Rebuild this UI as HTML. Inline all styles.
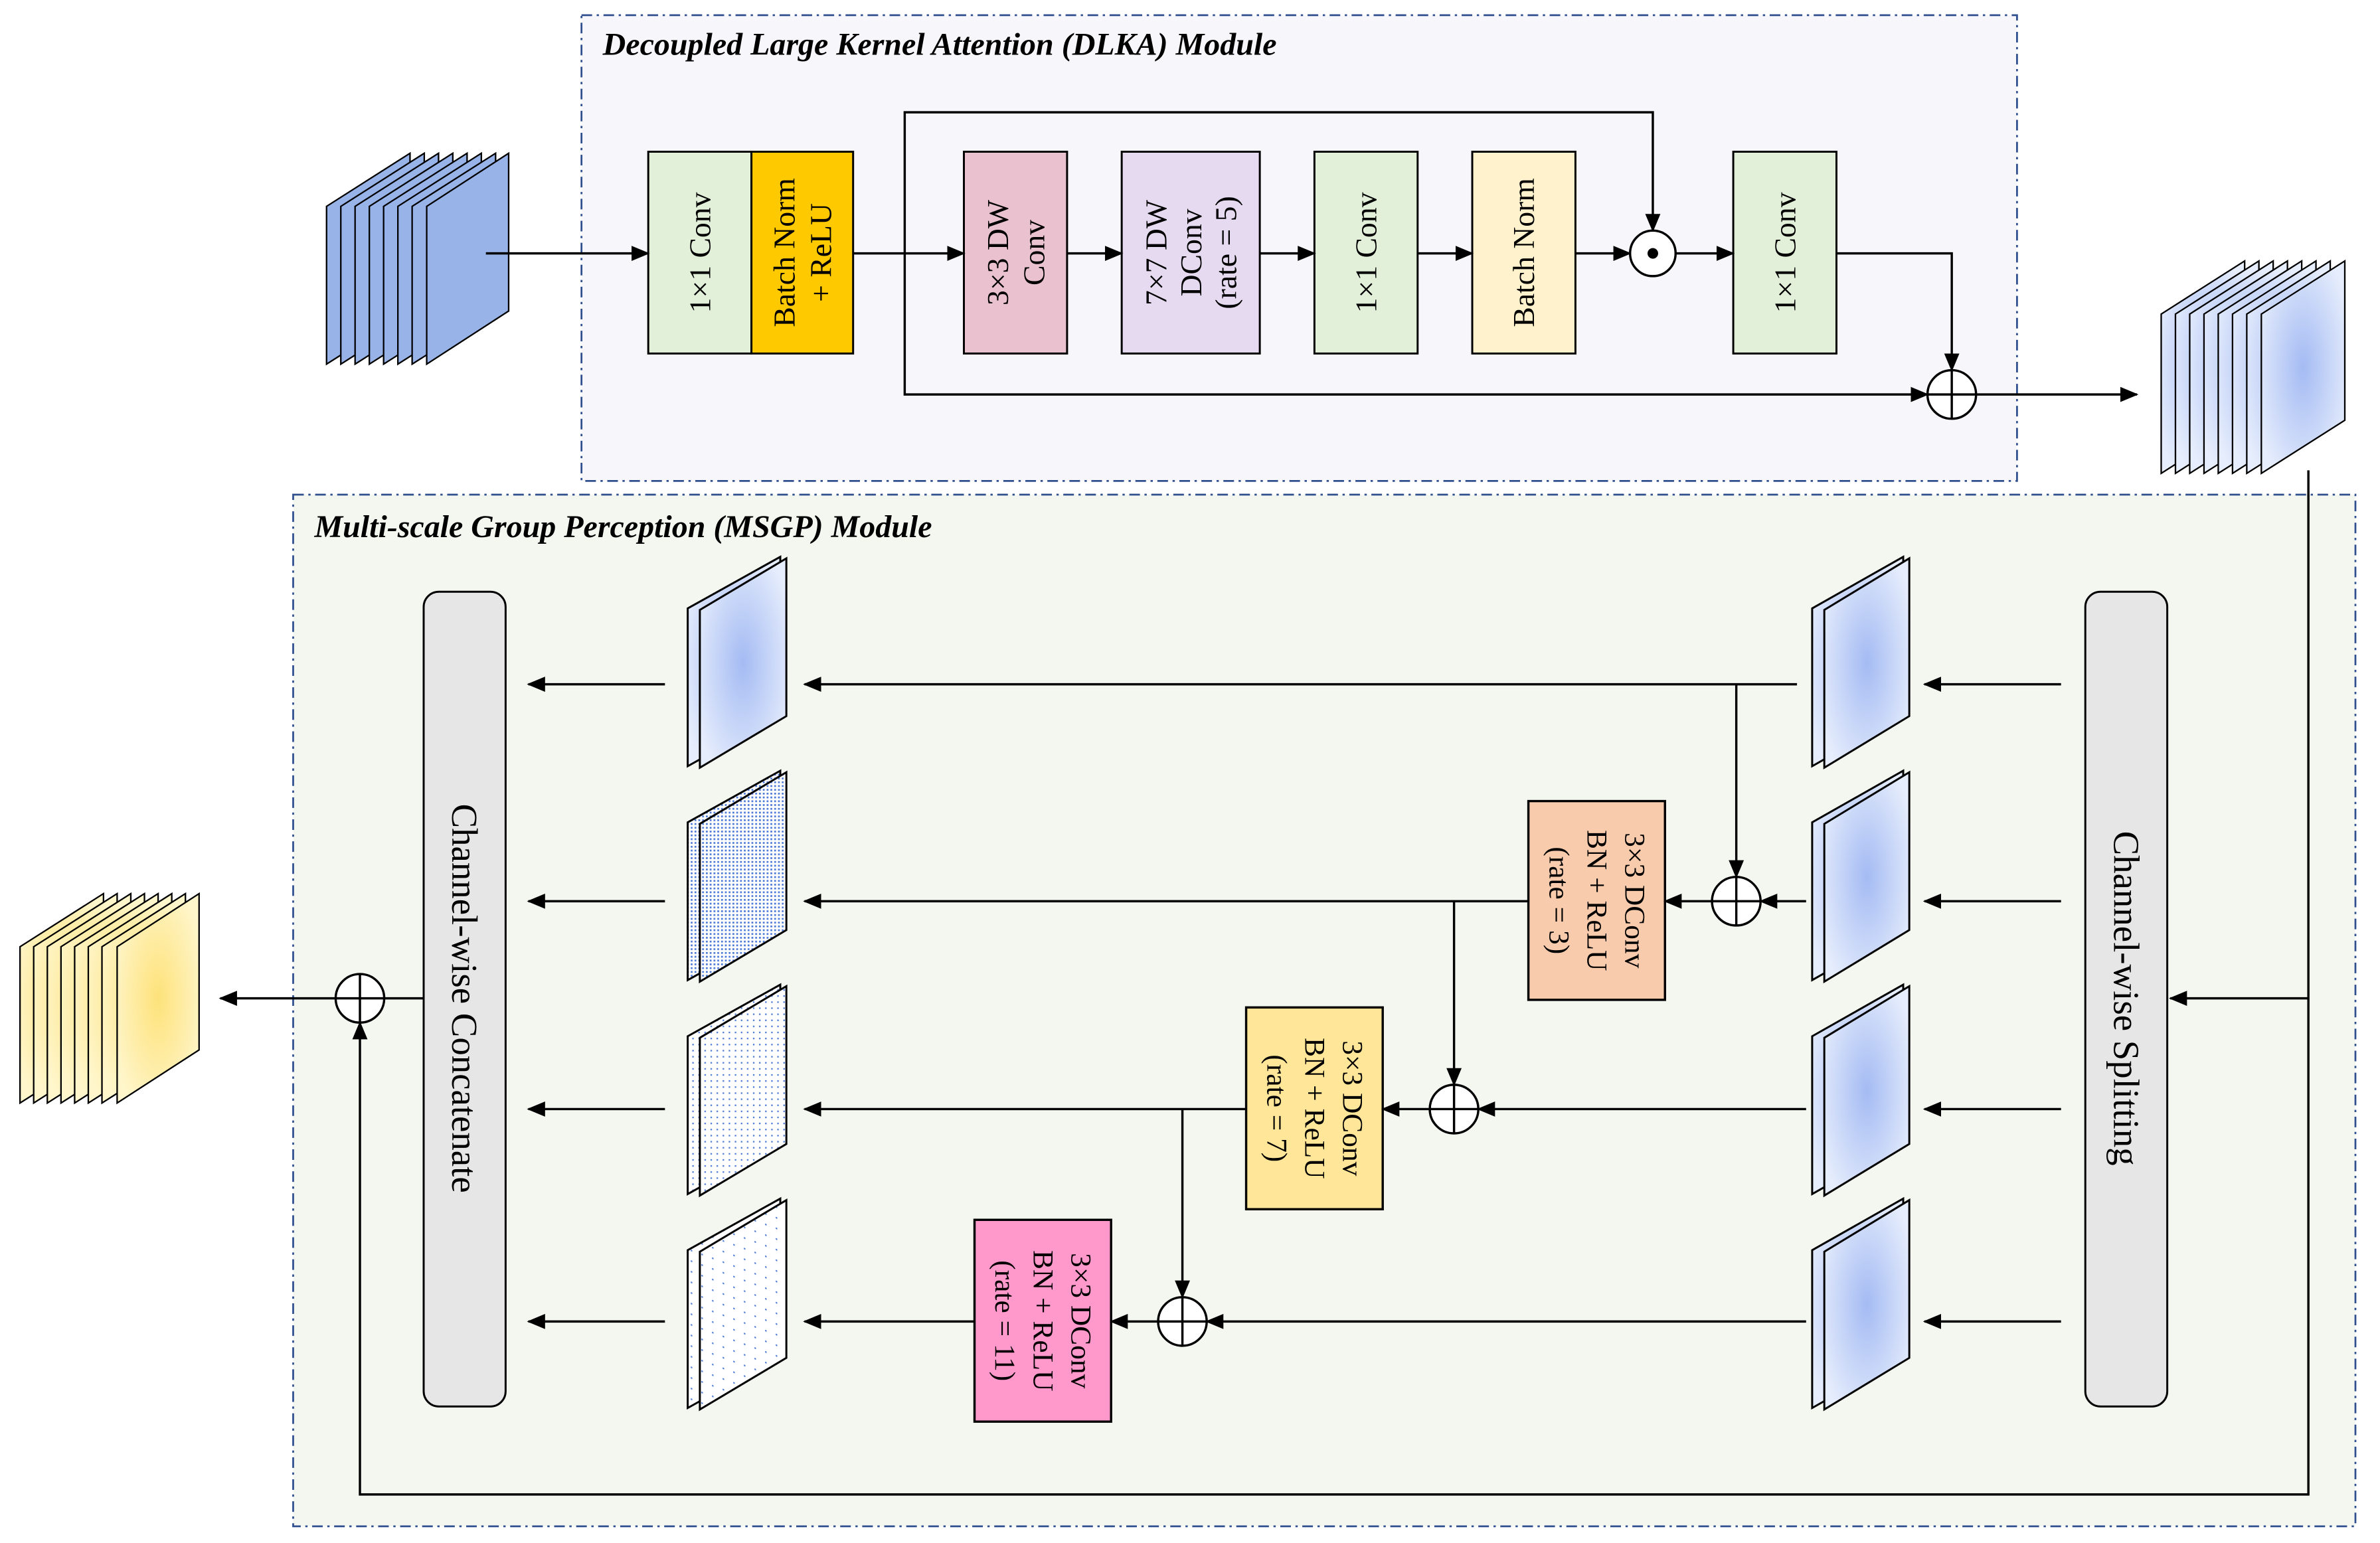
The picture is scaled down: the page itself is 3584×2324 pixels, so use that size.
<!DOCTYPE html>
<html><head><meta charset="utf-8"><style>html,body{margin:0;padding:0;background:#fff}svg{display:block}</style></head>
<body>
<svg width="3584" height="2324" viewBox="0 0 1568 1017" xmlns="http://www.w3.org/2000/svg" font-family="Liberation Serif, serif">
<defs>
<marker id="ah" markerWidth="12" markerHeight="10" refX="11" refY="5" orient="auto" markerUnits="userSpaceOnUse">
<path d="M0,0 L12,5 L0,10 z" fill="#000"/></marker>
<radialGradient id="gb" cx="0.5" cy="0.5" r="0.6"><stop offset="0" stop-color="#a4bbf3"/><stop offset="1" stop-color="#e6edfc"/></radialGradient>
<radialGradient id="gy" cx="0.5" cy="0.5" r="0.6"><stop offset="0" stop-color="#fde27a"/><stop offset="1" stop-color="#fff6cc"/></radialGradient>
<pattern id="p1" width="2.5" height="2.5" patternUnits="userSpaceOnUse"><rect width="2.5" height="2.5" fill="#fff"/><rect width="1.2" height="1.2" fill="#4d7bd6"/></pattern>
<pattern id="p2" width="4" height="4" patternUnits="userSpaceOnUse"><rect width="4" height="4" fill="#fff"/><rect width="1" height="1" fill="#4d7bd6"/></pattern>
<pattern id="p3" width="7" height="7" patternUnits="userSpaceOnUse" patternTransform="skewY(20)"><rect width="7" height="7" fill="#fff"/><rect width="1" height="1" fill="#4d7bd6"/></pattern>
</defs>
<rect width="1568" height="1017" fill="#fff"/>
<rect x="383" y="10" width="946" height="307" fill="#f7f6fb" stroke="#2f4f8f" stroke-width="1.2" stroke-dasharray="7 3 1.5 3"/>
<text x="397" y="36" font-size="21" font-weight="bold" font-style="italic">Decoupled Large Kernel Attention (DLKA) Module</text>
<rect x="193" y="326" width="1359" height="680" fill="#f3f7f0" stroke="#2f4f8f" stroke-width="1.2" stroke-dasharray="7 3 1.5 3"/>
<text x="207" y="354" font-size="21" font-weight="bold" font-style="italic">Multi-scale Group Perception (MSGP) Module</text>

<g stroke="#000" stroke-width="1" fill="#98b3e8">
<polygon points="215,136 270,101 270,205 215,240"/>
<polygon points="224.4,136 279.4,101 279.4,205 224.4,240"/>
<polygon points="233.8,136 288.8,101 288.8,205 233.8,240"/>
<polygon points="243.2,136 298.2,101 298.2,205 243.2,240"/>
<polygon points="252.6,136 307.6,101 307.6,205 252.6,240"/>
<polygon points="262,136 317,101 317,205 262,240"/>
<polygon points="271.4,136 326.4,101 326.4,205 271.4,240"/>
<polygon points="281,136 335,101 335,205 281,240"/>
</g>
<g stroke="#000" stroke-width="1" fill="url(#gb)">
<polygon points="1424,207 1479,172 1479,277 1424,312"/>
<polygon points="1433.4,207 1488.4,172 1488.4,277 1433.4,312"/>
<polygon points="1442.8,207 1497.8,172 1497.8,277 1442.8,312"/>
<polygon points="1452.2,207 1507.2,172 1507.2,277 1452.2,312"/>
<polygon points="1461.6,207 1516.6,172 1516.6,277 1461.6,312"/>
<polygon points="1471,207 1526,172 1526,277 1471,312"/>
<polygon points="1480.4,207 1535.4,172 1535.4,277 1480.4,312"/>
<polygon points="1490,207 1545,172 1545,277 1490,312"/>
</g>
<g stroke="#000" stroke-width="1" fill="url(#gy)">
<polygon points="13,624 68,589 68,692 13,727"/>
<polygon points="22,624 77,589 77,692 22,727"/>
<polygon points="31,624 86,589 86,692 31,727"/>
<polygon points="40,624 95,589 95,692 40,727"/>
<polygon points="49,624 104,589 104,692 49,727"/>
<polygon points="58,624 113,589 113,692 58,727"/>
<polygon points="67,624 122,589 122,692 67,727"/>
<polygon points="77,624 131,589 131,692 77,727"/>
</g>

<g stroke="#000" stroke-width="1.3">
<rect x="427" y="100" width="68" height="133" fill="#e2efd9"/>
<rect x="495" y="100" width="67" height="133" fill="#ffc900"/>
<rect x="635" y="100" width="68" height="133" fill="#eac2cf"/>
<rect x="739" y="100" width="91" height="133" fill="#e6daf1"/>
<rect x="866" y="100" width="68" height="133" fill="#e2efd9"/>
<rect x="970" y="100" width="68" height="133" fill="#fff2cc"/>
<rect x="1142" y="100" width="68" height="133" fill="#e2efd9"/>
</g>
<g font-size="20" text-anchor="middle" dominant-baseline="central">
<text transform="translate(461,166.5) rotate(-90)">1×1 Conv</text>
<text transform="translate(528.5,166.5) rotate(-90)"><tspan x="0" dy="-12">Batch Norm</tspan><tspan x="0" dy="24">+ ReLU</tspan></text>
<text transform="translate(669,166.5) rotate(-90)"><tspan x="0" dy="-12">3×3 DW</tspan><tspan x="0" dy="24">Conv</tspan></text>
<text transform="translate(784.5,166.5) rotate(-90)"><tspan x="0" dy="-23">7×7 DW</tspan><tspan x="0" dy="23">DConv</tspan><tspan x="0" dy="23">(rate = 5)</tspan></text>
<text transform="translate(900,166.5) rotate(-90)">1×1 Conv</text>
<text transform="translate(1004,166.5) rotate(-90)">Batch Norm</text>
<text transform="translate(1176,166.5) rotate(-90)">1×1 Conv</text>
</g>
<g stroke="#000" stroke-width="1.5" fill="none">
<line x1="320" y1="167" x2="427" y2="167" marker-end="url(#ah)"/>
<line x1="562" y1="167" x2="635" y2="167" marker-end="url(#ah)"/>
<line x1="703" y1="167" x2="739" y2="167" marker-end="url(#ah)"/>
<line x1="830" y1="167" x2="866" y2="167" marker-end="url(#ah)"/>
<line x1="934" y1="167" x2="970" y2="167" marker-end="url(#ah)"/>
<line x1="1038" y1="167" x2="1074" y2="167" marker-end="url(#ah)"/>
<line x1="1104" y1="167" x2="1142" y2="167" marker-end="url(#ah)"/>
<polyline points="596,167 596,74 1089,74 1089,152" marker-end="url(#ah)"/>
<polyline points="596,167 596,260 1270,260" marker-end="url(#ah)"/>
<polyline points="1210,167 1286,167 1286,244" marker-end="url(#ah)"/>
<line x1="1302" y1="260" x2="1408" y2="260" marker-end="url(#ah)"/>
</g>
<circle cx="1089" cy="167" r="15" fill="#fff" stroke="#000" stroke-width="1.5"/>
<circle cx="1089" cy="167" r="3.5" fill="#000"/>
<g stroke="#000" stroke-width="1.5" fill="#fff">
<circle cx="1286" cy="260" r="16"/><line x1="1270" y1="260" x2="1302" y2="260"/><line x1="1286" y1="244" x2="1286" y2="276"/>
</g>

<rect x="279" y="390" width="54" height="537" rx="10" fill="#e6e6e6" stroke="#000" stroke-width="1.3"/>
<rect x="1374" y="390" width="54" height="537" rx="10" fill="#e6e6e6" stroke="#000" stroke-width="1.3"/>
<text transform="translate(306,658) rotate(90)" font-size="24" text-anchor="middle" dominant-baseline="central">Channel-wise Concatenate</text>
<text transform="translate(1401,658) rotate(90)" font-size="24" text-anchor="middle" dominant-baseline="central">Channel-wise Splitting</text>

<g stroke="#000" stroke-width="1.3">
<g fill="url(#gb)"><polygon points="453,401 514,367 514,471 453,505"/><polygon points="461,402 518,368 518,472 461,506"/></g>
<g fill="url(#p1)"><polygon points="453,542 514,508 514,612 453,646"/><polygon points="461,543 518,509 518,613 461,647"/></g>
<g fill="url(#p2)"><polygon points="453,683 514,649 514,753 453,787"/><polygon points="461,684 518,650 518,754 461,788"/></g>
<g fill="url(#p3)"><polygon points="453,824 514,790 514,894 453,928"/><polygon points="461,825 518,791 518,895 461,929"/></g>
<g fill="url(#gb)">
<polygon points="1194,401 1254,367 1254,471 1194,505"/><polygon points="1202,402 1258,368 1258,472 1202,506"/>
<polygon points="1194,542 1254,508 1254,612 1194,646"/><polygon points="1202,543 1258,509 1258,613 1202,647"/>
<polygon points="1194,683 1254,649 1254,753 1194,787"/><polygon points="1202,684 1258,650 1258,754 1202,788"/>
<polygon points="1194,824 1254,790 1254,894 1194,928"/><polygon points="1202,825 1258,791 1258,895 1202,929"/>
</g>
</g>

<g stroke="#000" stroke-width="1.5">
<rect x="1007" y="528" width="90" height="131" fill="#f8cbad"/>
<rect x="821" y="664" width="90" height="133" fill="#ffe699"/>
<rect x="642" y="804" width="90" height="133" fill="#ff99cc"/>
</g>
<g font-size="19" text-anchor="middle" dominant-baseline="central">
<text transform="translate(1052,593.5) rotate(90)"><tspan x="0" dy="-25">3×3 DConv</tspan><tspan x="0" dy="25">BN + ReLU</tspan><tspan x="0" dy="25">(rate = 3)</tspan></text>
<text transform="translate(866,730.5) rotate(90)"><tspan x="0" dy="-25">3×3 DConv</tspan><tspan x="0" dy="25">BN + ReLU</tspan><tspan x="0" dy="25">(rate = 7)</tspan></text>
<text transform="translate(687,870.5) rotate(90)"><tspan x="0" dy="-25">3×3 DConv</tspan><tspan x="0" dy="25">BN + ReLU</tspan><tspan x="0" dy="25">(rate = 11)</tspan></text>
</g>

<g stroke="#000" stroke-width="1.5" fill="none">
<line x1="438" y1="451" x2="348" y2="451" marker-end="url(#ah)"/>
<line x1="438" y1="594" x2="348" y2="594" marker-end="url(#ah)"/>
<line x1="438" y1="731" x2="348" y2="731" marker-end="url(#ah)"/>
<line x1="438" y1="871" x2="348" y2="871" marker-end="url(#ah)"/>
<line x1="1358" y1="451" x2="1268" y2="451" marker-end="url(#ah)"/>
<line x1="1358" y1="594" x2="1268" y2="594" marker-end="url(#ah)"/>
<line x1="1358" y1="731" x2="1268" y2="731" marker-end="url(#ah)"/>
<line x1="1358" y1="871" x2="1268" y2="871" marker-end="url(#ah)"/>
<line x1="1184" y1="451" x2="530" y2="451" marker-end="url(#ah)"/>
<polyline points="1144,451 1144,578" marker-end="url(#ah)"/>
<line x1="1190" y1="594" x2="1160" y2="594" marker-end="url(#ah)"/>
<line x1="1128" y1="594" x2="1097" y2="594" marker-end="url(#ah)"/>
<line x1="1007" y1="594" x2="530" y2="594" marker-end="url(#ah)"/>
<polyline points="958,594 958,715" marker-end="url(#ah)"/>
<line x1="1190" y1="731" x2="974" y2="731" marker-end="url(#ah)"/>
<line x1="942" y1="731" x2="911" y2="731" marker-end="url(#ah)"/>
<line x1="821" y1="731" x2="530" y2="731" marker-end="url(#ah)"/>
<polyline points="779,731 779,855" marker-end="url(#ah)"/>
<line x1="1190" y1="871" x2="795" y2="871" marker-end="url(#ah)"/>
<line x1="763" y1="871" x2="732" y2="871" marker-end="url(#ah)"/>
<line x1="642" y1="871" x2="530" y2="871" marker-end="url(#ah)"/>
<polyline points="1521,310 1521,985 237,985 237,674" marker-end="url(#ah)"/>
<line x1="1521" y1="658" x2="1430" y2="658" marker-end="url(#ah)"/>
<line x1="279" y1="658" x2="145" y2="658" marker-end="url(#ah)"/>
</g>
<g stroke="#000" stroke-width="1.5" fill="#fff">
<circle cx="1144" cy="594" r="16"/><line x1="1128" y1="594" x2="1160" y2="594"/><line x1="1144" y1="578" x2="1144" y2="610"/>
<circle cx="958" cy="731" r="16"/><line x1="942" y1="731" x2="974" y2="731"/><line x1="958" y1="715" x2="958" y2="747"/>
<circle cx="779" cy="871" r="16"/><line x1="763" y1="871" x2="795" y2="871"/><line x1="779" y1="855" x2="779" y2="887"/>
<circle cx="237" cy="658" r="16"/><line x1="221" y1="658" x2="253" y2="658"/><line x1="237" y1="642" x2="237" y2="674"/>
</g>
</svg>
</body></html>
